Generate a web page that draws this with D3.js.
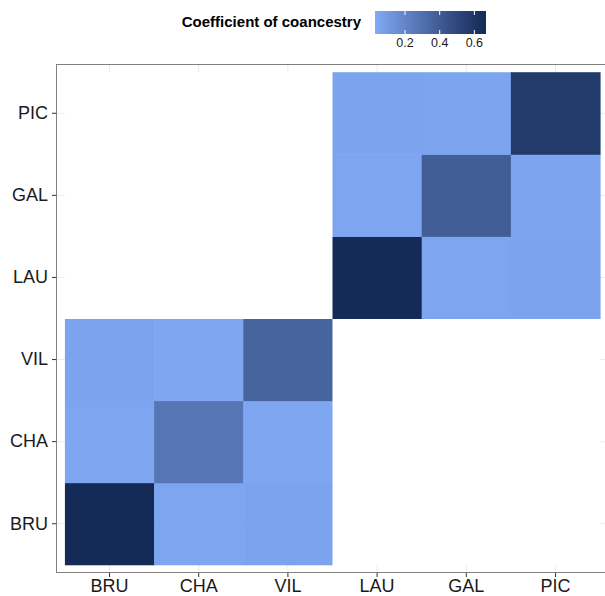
<!DOCTYPE html>
<html><head><meta charset="utf-8">
<script src="https://cdn.jsdelivr.net/npm/d3@7"></script>
<style>body{margin:0;background:#fff;} text{font-family:"Liberation Sans",Arial,sans-serif;}</style>
</head><body>
<svg id="c" width="605" height="596"></svg>
<script>
const categories = ["BRU","CHA","VIL","LAU","GAL","PIC"];
// symmetric coancestry matrix values (null = not available, drawn white)
const rowBRU = [0.66, 0.05, 0.06, null, null, null];
const rowCHA = [0.05, 0.27, 0.045, null, null, null];
const rowVIL = [0.06, 0.045, 0.36, null, null, null];
const rowLAU = [null, null, null, 0.66, 0.05, 0.06];
const rowGAL = [null, null, null, 0.05, 0.39, 0.055];
const rowPIC = [null, null, null, 0.06, 0.055, 0.57];
const legendTicks = [0.2, 0.4, 0.6];
const fillDomain = [0.027, 0.667];

const rows = [rowBRU,rowCHA,rowVIL,rowLAU,rowGAL,rowPIC];
const cells = [];
rows.forEach((r,i)=>r.forEach((v,j)=>{ cells.push({x:categories[j], y:categories[i], v}); }));

const svg = d3.select("#c");
const panel = {l:56, t:64, r:609, b:573};
const x = d3.scaleBand().domain(categories).range([panel.l, panel.r]).paddingOuter(0.1).paddingInner(0);
const y = d3.scaleBand().domain(categories).range([panel.b, panel.t]).paddingOuter(0.1).paddingInner(0);
const color = d3.scaleLinear().domain(fillDomain).range(["#82aaf6","#132a55"]).interpolate(d3.interpolateLab).clamp(true);

// grid
const g = svg.append("g");
categories.forEach(c=>{
  g.append("line").attr("x1",x(c)+x.bandwidth()/2).attr("x2",x(c)+x.bandwidth()/2).attr("y1",panel.t).attr("y2",panel.b).attr("stroke","#ebebeb").attr("stroke-width",1);
  g.append("line").attr("y1",y(c)+y.bandwidth()/2).attr("y2",y(c)+y.bandwidth()/2).attr("x1",panel.l).attr("x2",panel.r).attr("stroke","#ebebeb").attr("stroke-width",1);
});

svg.append("g").selectAll("rect").data(cells).join("rect")
  .attr("x",d=>x(d.x)).attr("y",d=>y(d.y))
  .attr("width",x.bandwidth()+0.5).attr("height",y.bandwidth()+0.5)
  .attr("fill",d=>d.v===null ? "#ffffff" : color(d.v));

// panel border
svg.append("rect").attr("x",panel.l+0.5).attr("y",panel.t+0.5).attr("width",panel.r-panel.l).attr("height",panel.b-panel.t-1)
  .attr("fill","none").attr("stroke","#7f7f7f").attr("stroke-width",1);

// axes
const xAxis = d3.axisBottom(x).tickSize(4).tickPadding(2);
const gx = svg.append("g").attr("transform",`translate(0,${panel.b})`).call(xAxis);
gx.select(".domain").remove();
gx.selectAll("line").attr("stroke","#333");
gx.selectAll("text").attr("font-size",18).attr("fill","#1a1a1a").attr("font-family","Liberation Sans, Arial, sans-serif");
const yAxis = d3.axisLeft(y).tickSize(4).tickPadding(4);
const gy = svg.append("g").attr("transform",`translate(${panel.l},0)`).call(yAxis);
gy.select(".domain").remove();
gy.selectAll("line").attr("stroke","#333");
gy.selectAll("text").attr("font-size",18).attr("fill","#1a1a1a").attr("font-family","Liberation Sans, Arial, sans-serif");

// legend
const lg = {x:375, y:11, w:111, h:23};
const defs = svg.append("defs");
const grad = defs.append("linearGradient").attr("id","lgrad");
d3.range(0,1.0001,0.05).forEach(t=>{
  grad.append("stop").attr("offset",t).attr("stop-color",color(fillDomain[0]+t*(fillDomain[1]-fillDomain[0])));
});
svg.append("rect").attr("x",lg.x).attr("y",lg.y).attr("width",lg.w).attr("height",lg.h).attr("fill","url(#lgrad)");
const ls = d3.scaleLinear().domain(fillDomain).range([lg.x, lg.x+lg.w]);
legendTicks.forEach(v=>{
  svg.append("line").attr("x1",ls(v)).attr("x2",ls(v)).attr("y1",lg.y).attr("y2",lg.y+4).attr("stroke","#fff").attr("stroke-width",1);
  svg.append("line").attr("x1",ls(v)).attr("x2",ls(v)).attr("y1",lg.y+lg.h-4).attr("y2",lg.y+lg.h).attr("stroke","#fff").attr("stroke-width",1);
  svg.append("text").attr("x",ls(v)).attr("y",lg.y+lg.h+13).attr("text-anchor","middle").attr("font-size",12.5).attr("fill","#1a1a1a").text(d3.format(".1f")(v));
});
svg.append("text").attr("x",361).attr("y",27).attr("text-anchor","end").attr("font-size",15).attr("font-weight","bold").attr("fill","#000").text("Coefficient of coancestry");
</script>
</body></html>
